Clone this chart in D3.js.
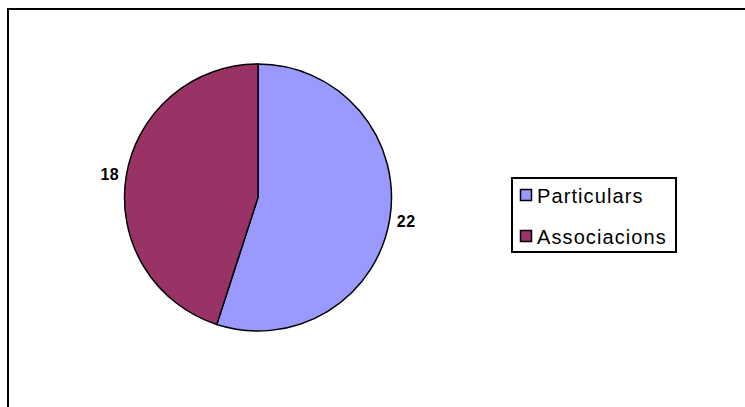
<!DOCTYPE html>
<html>
<head>
<meta charset="utf-8">
<script src="https://cdn.jsdelivr.net/npm/d3@7"></script>
<style>
  body { margin: 0; background: #fff; }
  svg { display: block; }
  text { font-family: "Liberation Sans", Arial, sans-serif; fill: #000; }
</style>
</head>
<body>
<svg id="chart" width="745" height="407"></svg>
<script>
var categories = ["Particulars", "Associacions"];
var values = [22, 18];
var colors = ["#9999ff", "#993366"];

const svg = d3.select("#chart");

// outer chart frame (right and bottom run off the picture)
svg.append("path")
  .attr("d", "M8,407 L8,9 L745,9")
  .attr("fill", "none")
  .attr("stroke", "#000")
  .attr("stroke-width", 2);

const cx = 258, cy = 197.5, radius = 133.5;

const pie = d3.pie().sort(null).value((d) => d);
const arcs = pie(values);
const arc = d3.arc().innerRadius(0).outerRadius(radius);
const labelArc = d3.arc().innerRadius(150).outerRadius(150);

const g = svg.append("g")
  .attr("transform", "translate(" + cx + "," + cy + ")");

g.selectAll(".slice")
  .data(arcs)
  .enter()
  .append("path")
  .attr("class", "slice")
  .attr("d", arc)
  .attr("fill", (d, i) => colors[i])
  .attr("stroke", "#000")
  .attr("stroke-width", 1.5);

g.selectAll(".lbl")
  .data(arcs)
  .enter()
  .append("text")
  .attr("class", "lbl")
  .attr("transform", (d) => "translate(" + labelArc.centroid(d) + ")")
  .attr("text-anchor", "middle")
  .attr("dy", "0.35em")
  .style("font-size", "16px")
  .style("font-weight", "bold")
  .style("letter-spacing", "0.5px")
  .text((d) => d.data);

// legend
const legend = svg.append("g")
  .attr("transform", "translate(512,178)");

legend.append("rect")
  .attr("x", 0)
  .attr("y", 0)
  .attr("width", 164)
  .attr("height", 74)
  .attr("fill", "#fff")
  .attr("stroke", "#000")
  .attr("stroke-width", 2);

const items = legend.selectAll(".item")
  .data(categories)
  .enter()
  .append("g")
  .attr("class", "item")
  .attr("transform", (d, i) => "translate(0," + (i * 41) + ")");

items.append("rect")
  .attr("x", 8.5)
  .attr("y", 11.5)
  .attr("width", 11)
  .attr("height", 11)
  .attr("fill", (d, i) => colors[i])
  .attr("stroke", "#000")
  .attr("stroke-width", 1.5);

items.append("text")
  .attr("x", 25)
  .attr("y", 24.5)
  .style("font-size", "20px")
  .style("letter-spacing", "1.1px")
  .text((d) => d);
</script>
</body>
</html>
